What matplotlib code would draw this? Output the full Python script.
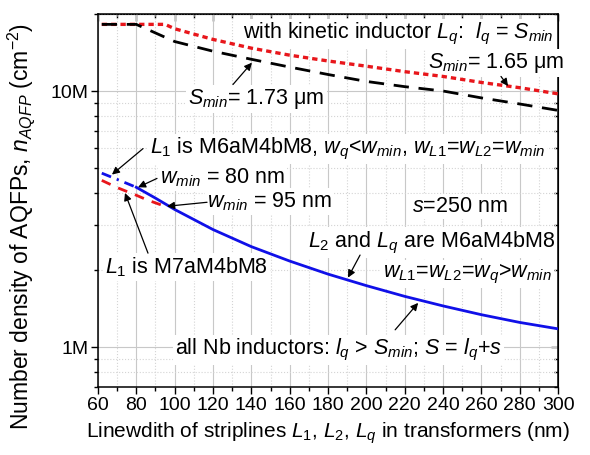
import matplotlib
matplotlib.use('Agg')
import matplotlib.pyplot as plt
from matplotlib.ticker import MultipleLocator, LogLocator, FixedLocator, FixedFormatter, NullFormatter
import numpy as np

plt.rcParams['font.family'] = ['Liberation Sans', 'DejaVu Sans']
plt.rcParams['mathtext.fontset'] = 'custom'
plt.rcParams['mathtext.rm'] = 'Liberation Sans'
plt.rcParams['mathtext.it'] = 'Liberation Sans:italic'
plt.rcParams['mathtext.bf'] = 'Liberation Sans:bold'

# kinetic inductor, S_min = 1.65 um (red dotted)
w_kin165 = [62, 95, 100, 120, 140, 160, 180, 200, 220, 240, 260, 280, 300]
n_kin165 = [18.2, 18.2, 17.5, 15.9, 14.7, 13.8, 13.1, 12.5, 11.9, 11.4, 10.8, 10.3, 9.75]

# kinetic inductor, S_min = 1.73 um (black dashed)
w_kin173 = [62, 80, 100, 120, 140, 160, 180, 200, 220, 240, 260, 280, 300]
n_kin173 = [18.2, 18.2, 15.6, 14.3, 13.3, 12.4, 11.6, 10.9, 10.4, 10.0, 9.4, 8.9, 8.4]

# all Nb, L1 is M6aM4bM8, w_q < w_min (blue dash-dot)
w_m6_low = [62, 71, 80]
n_m6_low = [4.78, 4.49, 4.21]

# all Nb, L1 = L2 = Lq in M6aM4bM8 (blue solid)
w_m6 = [80, 90, 100, 120, 140, 160, 180, 200, 220, 240, 260, 280, 300]
n_m6 = [4.21, 3.82, 3.45, 2.88, 2.47, 2.17, 1.93, 1.74, 1.58, 1.45, 1.34, 1.25, 1.18]

# all Nb, L1 is M7aM4bM8 (red dashed)
w_m7 = [62, 70, 80, 86, 95]
n_m7 = [4.48, 4.2, 3.92, 3.75, 3.55]

x_ticks = list(range(60, 301, 20))
y_ticks = [1e6, 1e7]
y_ticklabels = ['1M', '10M']

M = 1e6

fig = plt.figure(figsize=(5.9, 4.55), dpi=100)
ax = fig.add_axes([0.166, 0.1495, 0.78, 0.82])

ax.plot(w_kin165, np.array(n_kin165) * M, color='#e8161b', lw=2.4, dashes=(1.6, 1.2), zorder=4)
ax.plot(w_kin173, np.array(n_kin173) * M, color='black', lw=2.0, dashes=(5.5, 3.5), zorder=4)
ax.plot(w_m6_low, np.array(n_m6_low) * M, color='#1010e8', lw=2.0, dashes=(3.6, 2.2, 0.8, 2.2), zorder=4)
ax.plot(w_m6, np.array(n_m6) * M, color='#1010e8', lw=2.0, zorder=4)
ax.plot(w_m7, np.array(n_m7) * M, color='#e8161b', lw=2.0, dashes=(3.5, 3.0), zorder=4)

ax.set_yscale('log')
ax.set_xlim(60, 300)
ax.set_ylim(7e5, 2e7)

ax.xaxis.set_major_locator(FixedLocator(x_ticks))
ax.xaxis.set_minor_locator(MultipleLocator(10))
ax.yaxis.set_major_locator(FixedLocator(y_ticks))
ax.yaxis.set_major_formatter(FixedFormatter(y_ticklabels))
ax.yaxis.set_minor_locator(LogLocator(base=10, subs=np.arange(2, 10)))
ax.yaxis.set_minor_formatter(NullFormatter())

ax.tick_params(which='major', direction='out', length=5, width=1, labelsize=14, pad=2)
ax.tick_params(which='minor', direction='out', length=3, width=1)
for s in ax.spines.values():
    s.set_linewidth(1.1)

ax.grid(which='major', color='#c8c8c8', lw=0.8, ls='-', zorder=0)
ax.grid(which='minor', color='#d4d4d4', lw=0.8, ls=':', zorder=0)

top = ax.secondary_xaxis('top')
top.xaxis.set_major_locator(FixedLocator(x_ticks))
top.xaxis.set_minor_locator(MultipleLocator(10))
top.tick_params(which='major', direction='in', length=5, width=1, labeltop=False)
top.tick_params(which='minor', direction='in', length=3, width=1)
right = ax.secondary_yaxis('right')
right.yaxis.set_major_locator(FixedLocator(y_ticks))
right.yaxis.set_minor_locator(LogLocator(base=10, subs=np.arange(2, 10)))
right.tick_params(which='major', direction='in', length=5, width=1, labelright=False)
right.tick_params(which='minor', direction='in', length=3, width=1, labelright=False)

ax.set_xlabel('Linewdith of striplines $L_1$, $L_2$, $L_q$ in transformers (nm)', fontsize=15, labelpad=5)
ax.set_ylabel('Number density of AQFPs, $n_{AQFP}$ (cm$^{-2}$)', fontsize=16.5)
ax.yaxis.set_label_coords(-0.133, 0.43)

box = dict(fc='white', ec='none', pad=1.5)
arrow = dict(arrowstyle='-|>', color='black', lw=0.9, mutation_scale=11, shrinkA=0, shrinkB=0)
fs = 15.5

ax.text(135.7, 16.0 * M, 'with kinetic inductor $L_q$:  $l_q$ = $S_{min}$', fontsize=fs,
        va='baseline', bbox=box, zorder=3)
ax.text(232.2, 12.3 * M, '$S_{min}$= 1.65 μm', fontsize=fs, va='baseline', bbox=box, zorder=3)
ax.text(107, 8.9 * M, '$S_{min}$= 1.73 μm', fontsize=fs, va='baseline', bbox=box, zorder=3)
ax.text(87.1, 5.7 * M, '$L_1$ is M6aM4bM8, $w_q$<$w_{min}$, $w_{L1}$=$w_{L2}$=$w_{min}$', fontsize=fs,
        va='baseline', bbox=box, zorder=3)
ax.text(92.3, 4.36 * M, '$w_{min}$ = 80 nm', fontsize=fs, va='baseline', bbox=box, zorder=3)
ax.text(116.9, 3.52 * M, '$w_{min}$ = 95 nm', fontsize=fs, va='baseline', bbox=box, zorder=3)
ax.text(63.7, 1.95 * M, '$L_1$ is M7aM4bM8', fontsize=fs, va='baseline', bbox=box, zorder=3)
ax.text(223.7, 3.37 * M, '$s$=250 nm', fontsize=fs, va='baseline', bbox=box, zorder=3)
ax.text(169.6, 2.46 * M, '$L_2$ and $L_q$ are M6aM4bM8', fontsize=fs, va='baseline', bbox=box, zorder=3)
ax.text(208.7, 1.88 * M, '$w_{L1}$=$w_{L2}$=$w_q$>$w_{min}$', fontsize=fs, va='baseline',
        bbox=box, zorder=3)
ax.text(100.2, 0.94 * M, 'all Nb inductors: $l_q$ > $S_{min}$; $S$ = $l_q$+$s$', fontsize=fs,
        va='baseline', bbox=box, zorder=3)

# arrows: (tail, head) in data coordinates
arrow_tails = [(130.4, 10.6), (270.2, 11.4), (83.5, 5.96), (90.8, 4.56), (116.9, 3.68),
               (86.1, 2.33), (196.7, 2.29), (215, 1.17)]
arrow_heads = [(140.3, 12.9), (273.9, 10.45), (67.3, 4.72), (80.9, 4.21), (96, 3.55),
               (74.1, 4.0), (190.4, 1.87), (227, 1.49)]
for (xt, yt), (xh, yh) in zip(arrow_tails, arrow_heads):
    ax.annotate('', xy=(xh, yh * M), xytext=(xt, yt * M), arrowprops=arrow, zorder=5)

fig.savefig('out.png', dpi=100)
